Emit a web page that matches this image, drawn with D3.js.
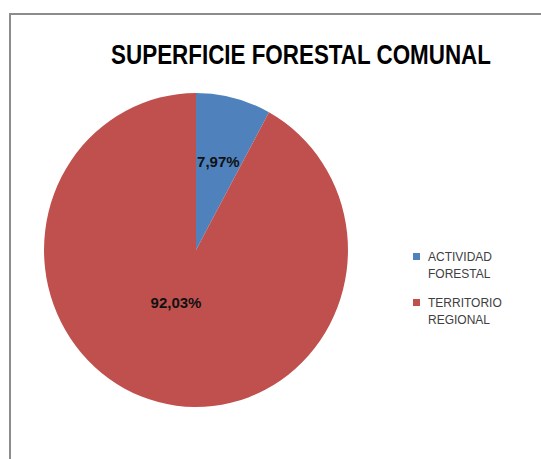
<!DOCTYPE html>
<head>
  <meta charset="utf-8" />
  <script src="https://d3js.org/d3.v7.min.js"></script>
  <style>
    body { margin: 0; background: #fff; }
    text { font-family: "Liberation Sans", Arial, sans-serif; }
  </style>
</head>
<body>
  <script>
    var width = 541, height = 459;

    // datos
    var categorias = ["ACTIVIDAD FORESTAL", "TERRITORIO REGIONAL"];
    var lineasLeyenda = [["ACTIVIDAD", "FORESTAL"], ["TERRITORIO", "REGIONAL"]];
    var valores = [7.97, 92.03];
    var etiquetas = ["7,97%", "92,03%"];
    var colores = ["#4F81BD", "#C0504D"];

    var svg = d3.select("body").append("svg")
      .attr("width", width).attr("height", height);

    // marco
    svg.append("path")
      .attr("d", "M10,470 L10,14 L560,14")
      .attr("fill", "none").attr("stroke", "#8c8c8c").attr("stroke-width", 2);

    // titulo, estrechado para parecerse a Calibri
    var titulo = svg.append("text")
      .attr("text-anchor", "middle")
      .attr("font-size", 27).attr("font-weight", "bold")
      .attr("fill", "#000")
      .text("SUPERFICIE FORESTAL COMUNAL");
    var w = titulo.node().getComputedTextLength();
    var sx = 380 / w;
    titulo.attr("transform", "translate(301,64) scale(" + sx + ",1)");

    var cx = 196, cy = 250, r = 157;
    var pie = d3.pie().sort(null).value(d => d);
    var arc = d3.arc().innerRadius(0).outerRadius(r);

    // el grafico original esta un poco estirado en vertical
    var g = svg.append("g").attr("transform", "translate(" + cx + "," + cy + ")");
    var arcs = pie(valores);

    g.append("g").attr("transform", "scale(0.968,1)")
      .selectAll("path.slice")
      .data(arcs)
      .join("path")
      .attr("class", "slice")
      .attr("d", arc)
      .attr("fill", (d, i) => colores[i]);

    var labelArc = d3.arc().innerRadius(r * 0.6).outerRadius(r * 0.6);
    g.selectAll("text.lbl")
      .data(arcs)
      .join("text")
      .attr("class", "lbl")
      .attr("x", (d, i) => i === 0 ? labelArc.centroid(d)[0] - 1 : -20)
      .attr("y", (d, i) => i === 0 ? -83 : 58)
      .attr("text-anchor", "middle")
      .attr("font-size", 15).attr("font-weight", "bold")
      .attr("fill", "#111")
      .text((d, i) => etiquetas[i]);

    // leyenda
    var leg = svg.append("g").attr("transform", "translate(413,0)");
    var items = leg.selectAll("g").data(categorias).join("g")
      .attr("transform", (d, i) => "translate(0," + (253 + i * 46) + ")");
    items.append("rect")
      .attr("width", 7).attr("height", 7)
      .attr("fill", (d, i) => colores[i]);
    items.each(function (d, i) {
      d3.select(this).selectAll("text")
        .data(lineasLeyenda[i]).join("text")
        .attr("x", 15)
        .attr("y", (t, j) => 8 + j * 17)
        .attr("font-size", 12)
        .attr("fill", "#404040")
        .text(t => t);
    });
  </script>
</body>
